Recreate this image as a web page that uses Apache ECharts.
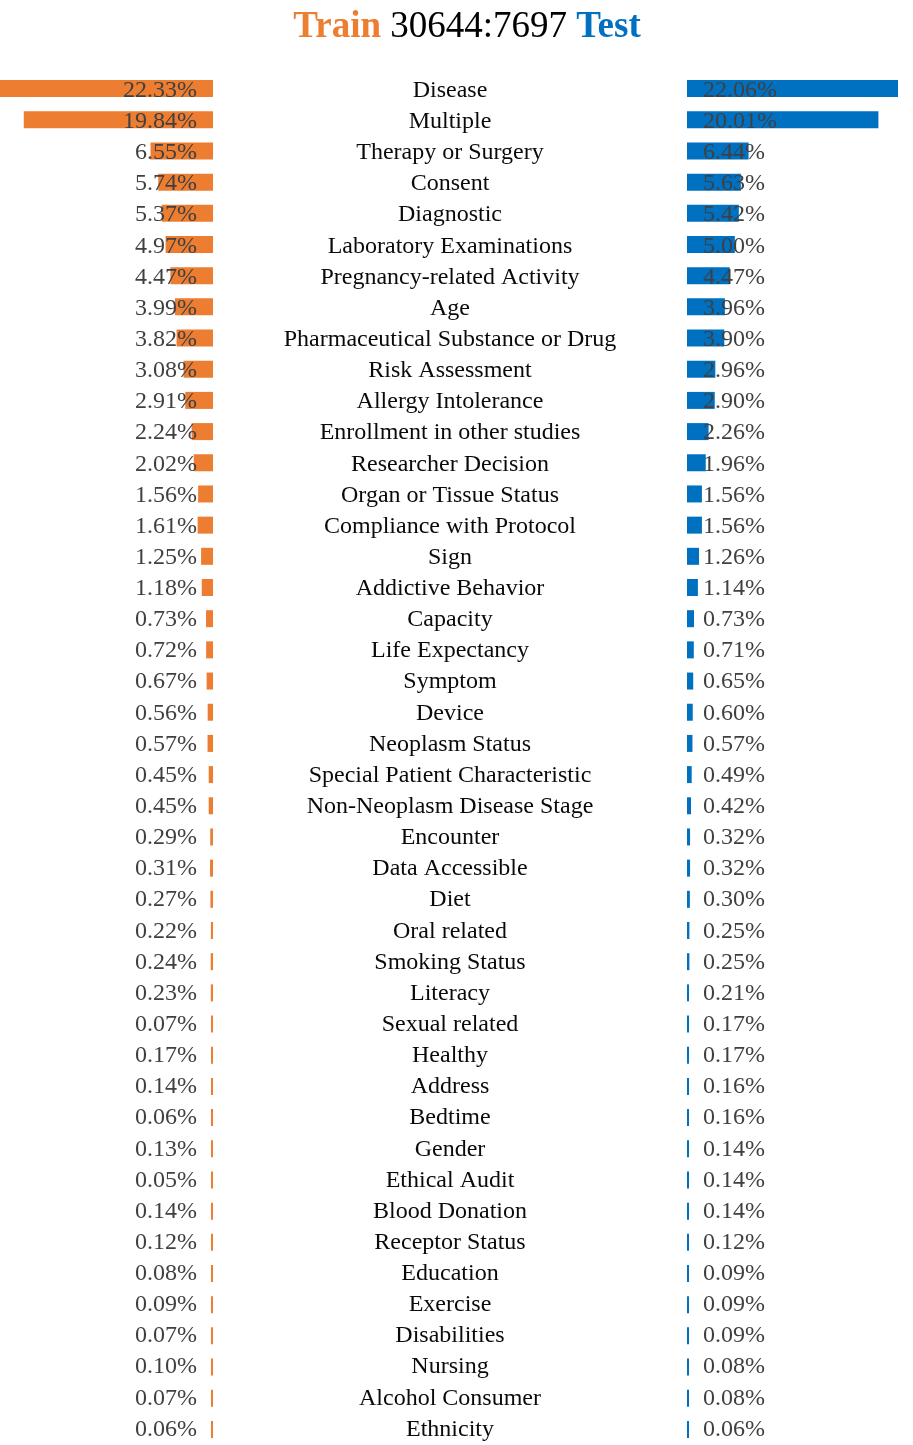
<!DOCTYPE html>
<html>
<head>
<meta charset="utf-8">
<script src="https://cdn.jsdelivr.net/npm/echarts@6/dist/echarts.min.js"></script>
<style>
html,body{margin:0;padding:0;background:#fff;}
#chart{width:913px;height:1445px;}
</style>
</head>
<body>
<div id="chart"></div>
<script>
const categories = ['Disease','Multiple','Therapy or Surgery','Consent','Diagnostic','Laboratory Examinations','Pregnancy-related Activity','Age','Pharmaceutical Substance or Drug','Risk Assessment','Allergy Intolerance','Enrollment in other studies','Researcher Decision','Organ or Tissue Status','Compliance with Protocol','Sign','Addictive Behavior','Capacity','Life Expectancy','Symptom','Device','Neoplasm Status','Special Patient Characteristic','Non-Neoplasm Disease Stage','Encounter','Data Accessible','Diet','Oral related','Smoking Status','Literacy','Sexual related','Healthy','Address','Bedtime','Gender','Ethical Audit','Blood Donation','Receptor Status','Education','Exercise','Disabilities','Nursing','Alcohol Consumer','Ethnicity'];
const trainValues = [22.33,19.84,6.55,5.74,5.37,4.97,4.47,3.99,3.82,3.08,2.91,2.24,2.02,1.56,1.61,1.25,1.18,0.73,0.72,0.67,0.56,0.57,0.45,0.45,0.29,0.31,0.27,0.22,0.24,0.23,0.07,0.17,0.14,0.06,0.13,0.05,0.14,0.12,0.08,0.09,0.07,0.10,0.07,0.06];
const testValues = [22.06,20.01,6.44,5.63,5.42,5.00,4.47,3.96,3.90,2.96,2.90,2.26,1.96,1.56,1.56,1.26,1.14,0.73,0.71,0.65,0.60,0.57,0.49,0.42,0.32,0.32,0.30,0.25,0.25,0.21,0.17,0.17,0.16,0.16,0.14,0.14,0.14,0.12,0.09,0.09,0.09,0.08,0.08,0.06];
const trainCount = '30644';
const testCount = '7697';

const FONT = 'Liberation Serif';
const ORANGE = '#ED7D31';
const BLUE = '#0070C0';

const chart = echarts.init(document.getElementById('chart'));
const hidden = {axisLine:{show:false},axisTick:{show:false},splitLine:{show:false}};
const lbl = {interval: 0, fontFamily: FONT, fontSize: 24};
chart.setOption({
  animation: false,
  title: {
    text: '{a|Train} {b|' + trainCount + ':' + testCount + '} {c|Test}',
    left: 462, top: 4, textAlign: 'center',
    textStyle: {
      fontFamily: FONT, fontSize: 37, fontWeight: 'normal', color: '#000',
      rich: {
        a: {fontFamily: FONT, fontSize: 37, fontWeight: 'bold', color: ORANGE},
        b: {fontFamily: FONT, fontSize: 37, fontWeight: 'normal', color: '#000'},
        c: {fontFamily: FONT, fontSize: 37, fontWeight: 'bold', color: BLUE}
      }
    }
  },
  grid: [
    {left: 0, width: 213, top: 73, height: 1372},
    {left: 687, right: 15, top: 73, height: 1372},
    {left: 0, width: 213, top: 75, height: 1372},
    {left: 687, right: 15, top: 75, height: 1372}
  ],
  xAxis: [
    Object.assign({type: 'value', gridIndex: 0, inverse: true, min: 0, max: 'dataMax', axisLabel: {show: false}}, hidden),
    Object.assign({type: 'value', gridIndex: 1, min: 0, max: 'dataMax', axisLabel: {show: false}}, hidden),
    Object.assign({type: 'value', gridIndex: 2, min: 0, max: 1, axisLabel: {show: false}}, hidden),
    Object.assign({type: 'value', gridIndex: 3, min: 0, max: 1, axisLabel: {show: false}}, hidden)
  ],
  yAxis: [
    Object.assign({type: 'category', gridIndex: 0, data: categories, inverse: true, axisLabel: {show: false}}, hidden),
    Object.assign({type: 'category', gridIndex: 1, data: categories, inverse: true, axisLabel: {show: false}}, hidden),
    Object.assign({type: 'category', gridIndex: 2, data: categories, inverse: true, position: 'right', z: 5,
      axisLabel: Object.assign({inside: true, margin: 16, color: '#404040',
        formatter: (v, i) => trainValues[i].toFixed(2) + '%'}, lbl)}, hidden),
    Object.assign({type: 'category', gridIndex: 2, data: categories, inverse: true, position: 'right', z: 5,
      axisLabel: Object.assign({margin: 237, align: 'center', color: '#0a0a0a'}, lbl)}, hidden),
    Object.assign({type: 'category', gridIndex: 3, data: categories, inverse: true, position: 'left', z: 5,
      axisLabel: Object.assign({inside: true, margin: 16, color: '#404040',
        formatter: (v, i) => testValues[i].toFixed(2) + '%'}, lbl)}, hidden)
  ],
  series: [
    {type: 'bar', xAxisIndex: 0, yAxisIndex: 0, data: trainValues, barWidth: 17, barMinHeight: 2,
      itemStyle: {color: ORANGE}},
    {type: 'bar', xAxisIndex: 1, yAxisIndex: 1, data: testValues, barWidth: 17, barMinHeight: 2,
      itemStyle: {color: BLUE}}
  ]
});
</script>
</body>
</html>
